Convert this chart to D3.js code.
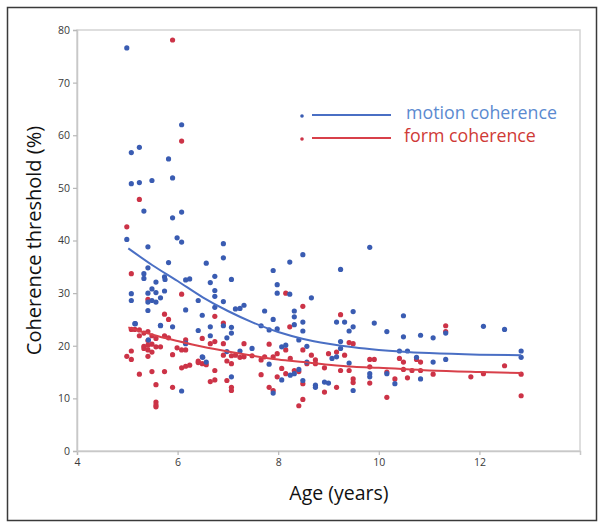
<!DOCTYPE html>
<html>
<head>
<meta charset="utf-8">
<style>
  body {margin: 0; background: #fff;}
  * {font-family: "Open Sans", sans-serif;}
</style>
<script src="https://d3js.org/d3.v7.min.js"></script>
</head>
<body>
<div id="chart"></div>
<script>
// motion coherence points (age in years, threshold %)
const motionAge = [4.99,5.08,5.24,5.08,5.24,5.49,5.33,5.82,5.90,5.90,6.08,6.08,4.99,5.99,6.08,5.41,5.41,5.33,5.33,5.74,5.75,5.82,5.57,
  5.08,5.08,5.15,5.41,5.49,5.57,5.66,5.74,5.41,5.49,5.57,5.41,5.66,5.90,6.16,6.24,6.16,6.16,6.08,6.41,6.49,6.57,6.65,6.74,6.74,
  6.74,6.74,6.91,6.91,6.91,6.65,6.41,6.65,6.49,6.57,6.91,7.07,7.07,7.07,6.98,6.98,7.07,7.15,7.24,7.32,7.24,7.48,7.73,7.66,7.90,
  7.90,7.98,7.98,7.82,7.98,7.82,7.90,8.07,8.15,8.07,8.23,8.23,8.32,8.32,8.32,8.41,8.49,8.49,8.49,8.57,8.66,8.41,8.57,8.24,8.32,
  8.49,8.74,8.74,8.92,9.00,9.16,9.24,9.24,9.32,9.41,9.49,9.49,9.07,9.16,9.24,9.41,9.49,9.82,9.91,9.82,9.82,10.16,10.16,10.32,
  10.41,10.49,10.49,10.57,10.75,10.83,10.83,11.08,11.08,11.33,11.33,12.08,12.50,12.83,12.83,5.42,5.16,5.66,6.50,6.16];
const motionVal = [76.6,56.7,57.7,50.8,51.0,51.4,45.6,55.5,51.9,44.3,45.4,62.0,40.2,40.5,39.7,38.8,34.8,33.7,32.8,33.1,32.6,35.8,32.1,
  29.9,28.6,24.2,30.0,30.8,30.1,29.1,30.4,28.3,28.6,28.3,26.7,23.8,23.6,32.5,32.7,26.8,20.4,11.4,28.6,25.8,35.7,32.0,33.2,30.5,
  29.4,27.3,39.4,36.7,28.4,23.6,22.9,21.9,17.9,16.9,23.8,32.6,23.5,22.4,21.5,18.9,14.1,27.0,27.1,27.7,19.0,19.5,26.6,23.8,25.0,
  34.3,31.6,30.0,23.0,23.2,16.5,11.0,19.8,20.1,13.5,35.9,29.8,26.6,25.5,24.0,21.1,37.3,24.5,22.8,19.9,29.1,15.5,16.9,14.4,14.7,
  13.4,12.5,12.1,13.1,12.9,24.5,34.5,20.8,24.5,22.8,26.5,23.6,17.6,17.9,19.5,16.7,11.5,38.7,24.3,14.7,14.1,22.7,14.7,12.8,
  19.0,25.7,21.7,19.0,17.8,22.0,13.7,21.5,16.9,22.4,17.4,23.7,23.1,19.0,17.8,21.1,24.2,23.9,17.8,20.5];

// form coherence points
const formAge = [5.90,6.08,5.24,4.99,5.08,6.08,5.41,5.74,5.82,4.99,5.08,5.08,5.08,5.15,5.24,5.24,5.33,5.41,5.49,5.57,5.33,5.33,5.41,
  5.41,5.41,5.41,5.49,5.49,5.57,5.66,5.24,5.49,5.57,5.57,5.57,5.57,5.74,5.74,5.82,5.90,5.90,5.99,6.08,6.16,6.16,6.08,6.16,6.24,
  6.41,6.41,6.49,6.49,6.57,6.65,6.74,6.74,6.74,6.65,6.74,6.91,6.91,6.91,6.98,7.07,7.07,7.07,7.07,6.98,7.15,7.24,7.32,7.32,7.48,
  7.66,7.66,7.73,7.82,7.82,7.90,7.90,7.98,7.98,8.07,8.15,8.15,8.15,8.23,8.24,8.32,8.41,8.41,8.49,8.49,8.49,8.49,8.57,8.66,8.74,
  8.74,8.92,8.92,9.00,9.16,9.16,9.24,9.24,9.32,9.41,9.41,9.49,9.49,9.49,9.82,9.91,9.82,9.82,10.16,10.16,10.32,10.41,10.49,10.49,
  10.57,10.66,10.75,10.83,10.83,11.08,11.33,11.33,11.83,12.08,12.50,12.83,12.83];
const formVal = [78.1,58.9,47.8,42.6,33.7,29.8,28.8,26.0,25.0,18.0,17.4,19.0,23.1,23.1,23.0,21.9,22.4,22.7,21.9,21.4,19.9,19.5,21.0,
  20.1,19.2,18.0,20.3,18.8,19.8,19.8,14.6,15.1,12.6,9.3,8.75,8.4,15.1,21.9,21.5,18.3,12.1,19.6,19.2,19.2,21.1,15.8,16.1,16.3,
  17.1,16.8,21.4,16.6,16.4,20.4,25.6,20.8,15.3,13.2,13.5,24.3,20.4,18.2,17.1,18.1,16.6,12.1,11.5,13.4,18.2,17.8,20.4,17.9,18.1,
  17.3,14.5,17.9,20.3,12.1,11.5,17.9,18.5,14.1,15.7,19.2,14.7,30.0,23.6,17.6,15.3,15.1,8.6,27.5,19.2,12.8,9.8,16.6,18.2,17.3,
  16.6,15.8,11.2,18.5,18.8,12.1,25.9,15.3,18.2,20.6,15.3,20.4,13.7,13.0,17.4,17.4,16.0,12.9,10.2,15.0,13.7,17.6,16.9,15.5,
  13.9,15.3,17.4,16.9,15.3,14.6,23.8,22.7,14.1,14.7,16.2,14.6,10.5];

// fitted curves
const fitAge =    [5.02, 5.5, 6.0, 6.5, 7.0, 7.5, 8.0, 8.5, 9.0, 9.5, 10.0, 11.0, 12.0, 12.83];
const motionFit = [38.5, 35.3, 32.3, 29.2, 26.6, 24.4, 22.6, 21.3, 20.4, 19.7, 19.2, 18.6, 18.3, 18.2];
const formFit =   [23.5, 22.1, 20.9, 19.8, 18.9, 18.1, 17.4, 16.9, 16.4, 16.0, 15.8, 15.3, 15.0, 14.8];

const xTicks = [4, 6, 8, 10, 12];
const yTicks = [0, 10, 20, 30, 40, 50, 60, 70, 80];

const W = 602, H = 528;
const margin = {top: 30, right: 22, bottom: 77, left: 77};

const svg = d3.select("#chart").append("svg")
  .attr("width", W).attr("height", H);

// outer frame
svg.append("rect")
  .attr("x", 7.5).attr("y", 7.5).attr("width", 589).attr("height", 513)
  .attr("fill", "none").attr("stroke", "#3a3a3a").attr("stroke-width", 1.5);

const x = d3.scaleLinear().domain([4, 14]).range([margin.left, W - margin.right]);
const y = d3.scaleLinear().domain([0, 80]).range([H - margin.bottom, margin.top]);

// plot box
svg.append("rect")
  .attr("x", x(4)).attr("y", y(80))
  .attr("width", x(14) - x(4)).attr("height", y(0) - y(80))
  .attr("fill", "none").attr("stroke", "#d4d4d4").attr("stroke-width", 1.5);

const xAxis = svg.append("g")
  .attr("transform", "translate(0," + y(0) + ")")
  .call(d3.axisBottom(x).tickValues(xTicks).tickSize(4).tickPadding(4));
const yAxis = svg.append("g")
  .attr("transform", "translate(" + x(4) + ",0)")
  .call(d3.axisLeft(y).tickValues(yTicks).tickSize(4).tickPadding(3));

[xAxis, yAxis].forEach(g => {
  g.select(".domain").attr("stroke", "#c8c8c8").attr("stroke-width", 1.5);
  g.selectAll(".tick line").attr("stroke", "#b8b8b8").attr("stroke-width", 1.2);
  g.selectAll(".tick text").attr("fill", "#3a3a3a").style("font-size", "10.5px");
});

// axis titles
svg.append("text")
  .attr("x", 339).attr("y", 500)
  .attr("text-anchor", "middle")
  .style("font-size", "19.5px").attr("fill", "#111")
  .text("Age (years)");
svg.append("text")
  .attr("transform", "translate(41," + ((y(0) + y(80)) / 2) + ") rotate(-90)")
  .attr("text-anchor", "middle")
  .style("font-size", "20px").attr("fill", "#111")
  .text("Coherence threshold (%)");

const series = [
  {name: "motion coherence", ages: motionAge, vals: motionVal, fit: motionFit,
   dot: "#3a5cb2", line: "#4a6fc4", label: "#5b8ad0"},
  {name: "form coherence", ages: formAge, vals: formVal, fit: formFit,
   dot: "#cc3347", line: "#d8404a", label: "#cf3a36"}
];

const line = d3.line()
  .x(d => x(d[0])).y(d => y(d[1]))
  .curve(d3.curveMonotoneX);

// form first so motion dots sit on top
series.slice().reverse().forEach(s => {
  svg.append("g").selectAll("circle")
    .data(d3.zip(s.ages, s.vals))
    .join("circle")
    .attr("cx", d => x(d[0]))
    .attr("cy", d => y(d[1]))
    .attr("r", 2.6)
    .attr("fill", s.dot);
});

series.forEach(s => {
  svg.append("path")
    .datum(d3.zip(fitAge, s.fit))
    .attr("d", line)
    .attr("fill", "none")
    .attr("stroke", s.line)
    .attr("stroke-width", 2);
});

// legend
const legend = svg.append("g");
series.forEach((s, i) => {
  const ly = 115 + i * 23;
  legend.append("circle").attr("cx", 302).attr("cy", ly + 1).attr("r", 1.8).attr("fill", s.dot);
  legend.append("line")
    .attr("x1", 312).attr("x2", 391).attr("y1", ly).attr("y2", ly)
    .attr("stroke", s.line).attr("stroke-width", 2);
  legend.append("text")
    .attr("x", i == 0 ? 406 : 404).attr("y", ly + 4)
    .style("font-size", "17.8px").attr("fill", s.label)
    .text(s.name);
});
</script>
</body>
</html>
